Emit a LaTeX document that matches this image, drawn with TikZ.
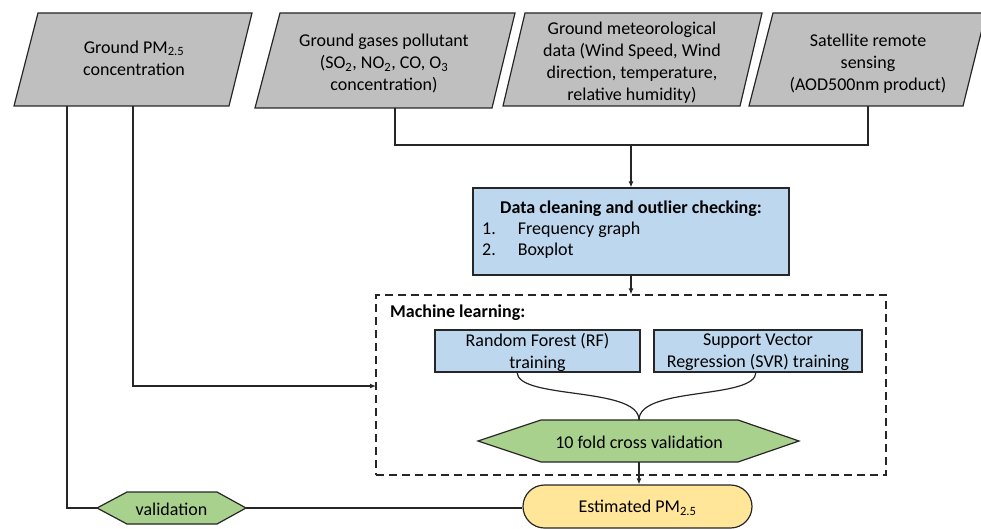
\documentclass[tikz,border=0pt]{standalone}
\usepackage{fontspec}
\setmainfont{Carlito}
\usetikzlibrary{arrows.meta}
\definecolor{paragray}{HTML}{BFBFBF}
\definecolor{boxblue}{HTML}{BDD7EE}
\definecolor{hexgreen}{HTML}{A9D18E}
\definecolor{ovalyellow}{HTML}{FFE699}
\definecolor{linec}{HTML}{262626}
\begin{document}
\begin{tikzpicture}[x=1pt,y=-1pt,
  shapeline/.style={draw=linec, line width=1.2pt, line join=miter},
  conn/.style={draw=linec, line width=1.2pt},
  arr/.style={conn, -{Latex[length=6pt,width=5pt]}},
  txt/.style={font=\fontsize{18}{22}\selectfont, align=center, inner sep=0pt, text=black},
  btxt/.style={font=\fontsize{18}{22}\selectfont\bfseries, inner sep=0pt, text=black}
]
\useasboundingbox (0,0) rectangle (981,529);

% input parallelograms
\path[shapeline, fill=paragray] (38,13) -- (252,13) -- (229,106) -- (14,106) -- cycle;
\path[shapeline, fill=paragray] (280,13) -- (515,13) -- (492,108) -- (255,108) -- cycle;
\path[shapeline, fill=paragray] (525,13) -- (762,13) -- (740,106) -- (503,106) -- cycle;
\path[shapeline, fill=paragray] (773,13) -- (986,13) -- (963,106) -- (749,106) -- cycle;

\node[txt] (p1) at (134,58) {Ground PM\textsubscript{2.5}\\concentration};
\node[txt] (p2) at (384,64) {Ground gases pollutant\\(SO\textsubscript{2}, NO\textsubscript{2}, CO, O\textsubscript{3}\\concentration)};
\node[txt] (p3) at (632,63) {Ground meteorological\\data (Wind Speed, Wind\\direction, temperature,\\relative humidity)};
\node[txt] (p4) at (868,64) {Satellite remote\\sensing\\(AOD500nm product)};

\coordinate (p1a) at (67,106);
\coordinate (p1b) at (133,106);
\coordinate (p2b) at (395,108);
\coordinate (p4b) at (868,106);
\coordinate (junc) at (631,145);

% data cleaning box
\node[shapeline, fill=boxblue, minimum width=316pt, minimum height=87pt, inner sep=0pt] (clean) at (631,231.5) {};
\node[btxt, anchor=center] (cleanhead) at (631,209) {Data cleaning and outlier checking:};
\node[txt, anchor=west] (item1) at (482,230) {1.\hspace{22pt}Frequency graph};
\node[txt, anchor=west] (item2) at (482,251) {2.\hspace{22pt}Boxplot};

% machine learning dashed box
\node[draw=linec, line width=1.2pt, dash pattern=on 8pt off 5pt, minimum width=510pt, minimum height=180pt, inner sep=0pt] (ml) at (631,385) {};
\node[btxt, anchor=west] (mltitle) at (390,313) {Machine learning:};
\coordinate (mlin) at (376,386);

\node[shapeline, fill=boxblue, minimum width=205pt, minimum height=42pt, inner sep=0pt] (rf) at (537.5,351) {};
\node[txt] (rft) at (537.5,352) {Random Forest (RF)\\training};
\node[shapeline, fill=boxblue, minimum width=208pt, minimum height=42pt, inner sep=0pt] (svr) at (758,351) {};
\node[txt] (svrt) at (758,352) {Support Vector\\Regression (SVR) training};

% 10 fold hexagon
\path[shapeline, fill=hexgreen] (478,441) -- (541,420) -- (738,420) -- (799,441) -- (738,462) -- (541,462) -- cycle;
\node[txt] (cv) at (639,442) {10 fold cross validation};
\coordinate (cvtop) at (639,420);
\coordinate (cvbot) at (639,462);
\coordinate (rfb) at (517,372);
\coordinate (svrb) at (756,372);

% estimated oval
\node[shapeline, fill=ovalyellow, rounded corners=21.5pt, minimum width=229pt, minimum height=43pt, inner sep=0pt] (est) at (637.5,506.5) {};
\node[txt] (estt) at (637.5,508) {Estimated PM\textsubscript{2.5}};

% validation hexagon
\path[shapeline, fill=hexgreen] (97,508) -- (127,492) -- (217,492) -- (246,508) -- (217,524) -- (127,524) -- cycle;
\node[txt] (valt) at (171.5,509) {validation};
\coordinate (valW) at (97,508);
\coordinate (valE) at (246,508);

% connectors
\draw[conn] (p2b) |- (junc) -| (p4b);
\draw[arr] (junc) -- (clean.north);
\draw[arr] (clean.south) -- (ml.north);
\draw[arr] (p1b) |- (mlin);
\draw[conn] (rfb) .. controls (517,400) and (639,386) .. (cvtop);
\draw[conn] (svrb) .. controls (756,400) and (639,386) .. (cvtop);
\draw[arr] (cvbot) -- (cvbot |- est.north);
\draw[conn] (p1a) |- (valW);
\draw[conn] (valE) -- (valE -| est.west);
\end{tikzpicture}
\end{document}
